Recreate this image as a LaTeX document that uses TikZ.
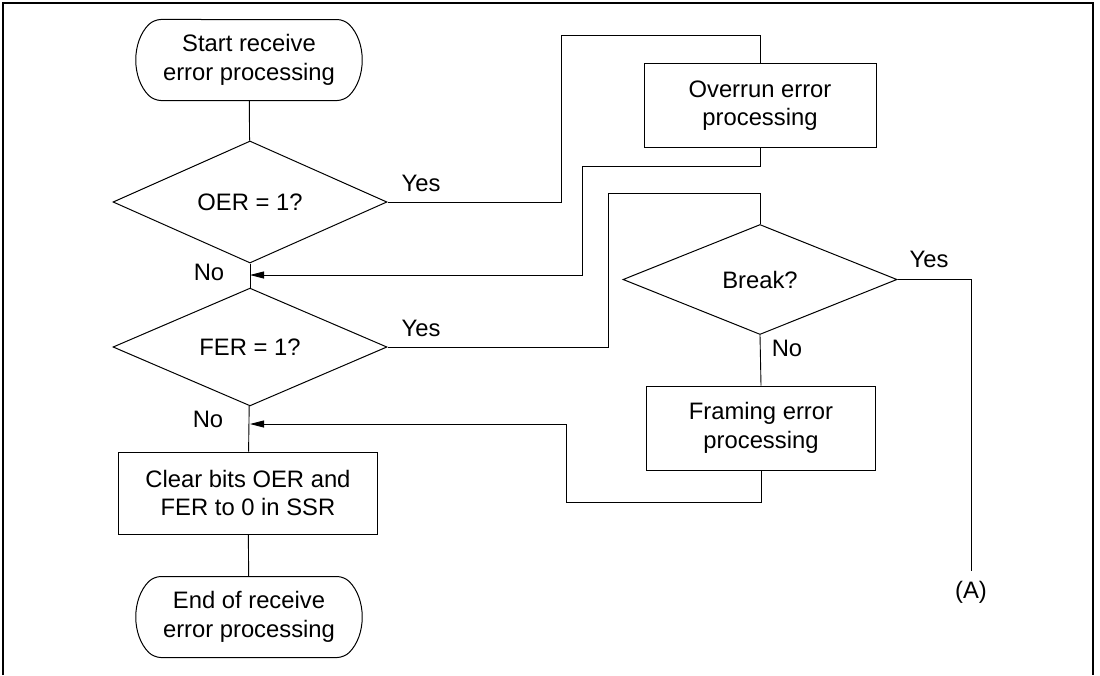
\documentclass[tikz,border=0pt]{standalone}
\usepackage{fontspec}
\setmainfont{Liberation Sans}
\usetikzlibrary{shapes.geometric,shapes.misc,arrows.meta}
\begin{document}
\begin{tikzpicture}[x=1pt,y=-1pt,
  every node/.style={font=\fontsize{23.8}{28.5}\selectfont},
  term/.style={draw,line width=1pt,rounded rectangle,rounded rectangle arc length=90,rounded corners=7pt,minimum width=224pt,minimum height=81pt,inner sep=0pt,align=center},
  proc/.style={draw,line width=1pt,rectangle,minimum width=232pt,minimum height=84pt,inner sep=0pt,align=center},
  dec/.style={draw,line width=1pt,diamond,minimum width=274pt,minimum height=110pt,inner sep=0pt,align=center},
  lbl/.style={inner sep=0pt},
  conn/.style={line width=0.9pt},
  arr/.style={conn,-{Triangle[length=14pt,width=7pt]}}]
\useasboundingbox (0,0) rectangle (1100,675);
\draw[line width=1.2pt] (3,675) -- (3,3) -- (1093,3) -- (1093,675);

\node[term] (start) at (249,60) {Start receive\\error processing};
\node[dec] (oer) at (250,202) {OER = 1?};
\node[dec] (fer) at (250,347) {FER = 1?};
\node[proc,minimum width=259pt,minimum height=82pt] (clr) at (248,493) {Clear bits OER and\\FER to 0 in SSR};
\node[term] (end) at (249,617) {End of receive\\error processing};
\node[proc] (ovr) at (760,105.5) {Overrun error\\processing};
\node[dec] (brk) at (760,279.5) {Break?};
\node[proc,minimum width=229pt] (frm) at (761,428) {Framing error\\processing};
\node[lbl] (A) at (971,592) {(A)};

\node[lbl] at (421,183) {Yes};
\node[lbl] at (209,272) {No};
\node[lbl] at (421,328) {Yes};
\node[lbl] at (208,419) {No};
\node[lbl] at (929,259) {Yes};
\node[lbl] at (787,348) {No};

\coordinate (p1) at (561,35);
\coordinate (p2) at (582,166);
\coordinate (j1) at (250,275);
\coordinate (p3) at (608,193);
\coordinate (p4) at (566,502);
\coordinate (j2) at (250,424);
\coordinate (a1) at (971,571);

\draw[conn] (start) -- (oer);
\draw[conn] (oer) -- (fer);
\draw[conn] (fer) -- (clr);
\draw[conn] (clr) -- (end);
\draw[conn] (oer.east) -| (p1) -| (ovr.north);
\draw[arr] (ovr.south) |- (p2) |- (j1);
\draw[conn] (fer.east) -| (p3) -| (brk.north);
\draw[conn] (brk.east) -| (a1);
\draw[conn] (brk.south) -- (frm.north);
\draw[arr] (frm.south) |- (p4) |- (j2);
\end{tikzpicture}
\end{document}
